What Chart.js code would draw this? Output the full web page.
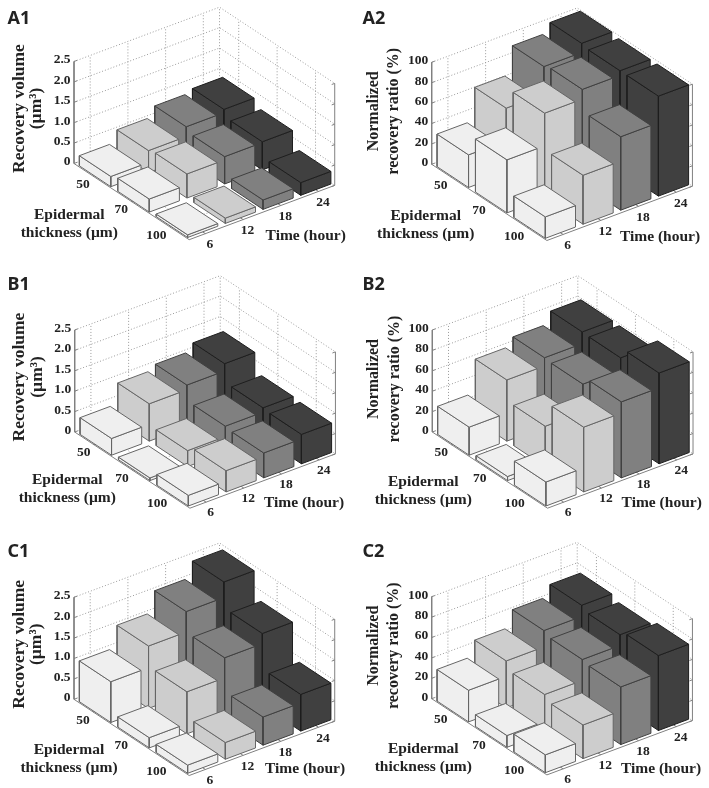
<!DOCTYPE html>
<html>
<head>
<meta charset="utf-8">
<script src="https://cdn.jsdelivr.net/npm/chart.js@4/dist/chart.umd.min.js"></script>
<style>
    html, body { margin: 0; padding: 0; background: #fff; }
    #figura { position: relative; width: 709px; height: 788px; overflow: hidden; }
    .painel { position: absolute; width: 354px; height: 262px; }
</style>
</head>
<body>
<div id="figura"></div>
<script>
// Categorias e marcas dos eixos
const timeHours = ['6', '12', '18', '24'];
const thicknessUm = ['50', '70', '100'];
const volumeTicks = [0, 0.5, 1.0, 1.5, 2.0, 2.5];
const ratioTicks = [0, 20, 40, 60, 80, 100];
const panelNames = ['A1', 'A2', 'B1', 'B2', 'C1', 'C2'];

// Valores: linhas = espessura (50, 70, 100), colunas = tempo (6, 12, 18, 24)
const a1 = [[0.25, 0.54, 0.78, 0.86], [0.32, 0.59, 0.67, 0.69], [0.065, 0.13, 0.23, 0.31]];
const a2 = [[32, 64, 91, 100], [52, 84, 93.5, 98], [21, 48, 72, 98]];
const b1 = [[0.41, 0.915, 1.03, 1.21], [0.065, 0.39, 0.645, 0.75], [0.26, 0.52, 0.61, 0.72]];
const b2 = [[27.5, 60, 68, 79.5], [4, 39.5, 67, 79], [23.5, 63.5, 74.5, 89]];
const c1 = [[1.0, 1.53, 2.03, 2.41], [0.25, 1.03, 1.52, 1.77], [0.2, 0.41, 0.69, 0.9]];
const c2 = [[31, 46, 62, 73], [11.5, 38, 58.5, 69], [17.5, 33, 56.5, 73.5]];
const panelValues = [a1, a2, b1, b2, c1, c2];

// Cor de cada tempo
const timeColors = ['#efefef', '#cdcdcd', '#808080', '#404040'];
const edgeColors = ['#666666', '#666666', '#404040', '#1e1e1e'];

// Posição de cada painel na página e origem do eixo dentro dele
const panelLeft = [0, 355, 0, 355, 0, 355];
const panelTop = [0, 0, 262, 262, 526, 526];
const originX = [74, 76.7, 74.7, 77.3, 74, 76.7];
const originY = [163.5, 164.3, 170, 170, 173.3, 172.7];
const nameY = [19, 19, 22.7, 22.7, 25.5, 25.5];
const epidermalDx = [-4.7, -6, -7.4, -9, -5, -8.4];
const epidermalDy = [51.5, 51.4, 48.3, 50, 50.7, 50];
const timeTitleDx = [231.7, 228.3, 229.3, 229.4, 231, 229.3];
const timeTitleDy = [72.2, 72.4, 71, 70.7, 70, 70.6];

// Projeção: quanto um passo de espessura, de tempo e o eixo vertical andam na tela
const H_X = 38.4, H_Y = 25.4;
const T_X = 37.7, T_Y = -14.07;
const T_MAX = 3.86, T_START = 0.03, BAR = 0.8;
const Z_HEIGHT = 102;

function criarPonto(painel, h, t, frac) {
    return {
        x: originX[painel] + h * H_X + t * T_X,
        y: originY[painel] + h * H_Y + t * T_Y - frac * Z_HEIGHT
    };
}

function linha(pontos, cor, tracejado) {
    return { data: pontos, showLine: true, fill: false, borderColor: cor, borderWidth: 1, borderDash: tracejado ? [1, 2] : [], pointRadius: 0, tension: 0 };
}

function face(pontos, cor, borda) {
    return { data: pontos.concat([pontos[0]]), showLine: true, fill: 'shape', backgroundColor: cor, borderColor: borda, borderWidth: 1, pointRadius: 0, tension: 0, borderJoinStyle: 'round' };
}

// Paredes, chão e eixos
function montarGrade(painel, ticks) {
    const p = (h, t, f) => criarPonto(painel, h, t, f);
    const sets = [];
    const grade = '#9a9a9a', eixo = '#808080';
    const zMax = ticks[ticks.length - 1];

    ticks.forEach(v => {
        const f = v / zMax;
        sets.push(linha([p(0, 0, f), p(0, T_MAX, f), p(3, T_MAX, f)], grade, true));
    });
    timeHours.forEach((_, j) => {
        const t = j + 0.43;
        sets.push(linha([p(0, t, 0), p(0, t, 1)], grade, true));
        sets.push(linha([p(0, t, 0), p(3, t, 0)], grade, true));
    });
    thicknessUm.forEach((_, i) => {
        const h = i + 0.5;
        sets.push(linha([p(h, T_MAX, 0), p(h, T_MAX, 1)], grade, true));
        sets.push(linha([p(h, 0, 0), p(h, T_MAX, 0)], grade, true));
    });
    sets.push(linha([p(0, T_MAX, 0), p(0, T_MAX, 1)], grade, true));

    sets.push(linha([p(0, 0, 1), p(0, 0, 0), p(3, 0, 0), p(3, T_MAX, 0), p(3, T_MAX, 1)], eixo, false));
    ticks.forEach(v => {
        const f = v / zMax;
        sets.push(linha([p(0, 0, f), p(0, 0.08, f)], eixo, false));
        sets.push(linha([p(3, T_MAX, f), p(3, T_MAX - 0.08, f)], eixo, false));
    });
    timeHours.forEach((_, j) => {
        sets.push(linha([p(3, j + 0.43, 0), p(2.9, j + 0.43, 0)], eixo, false));
    });
    thicknessUm.forEach((_, i) => {
        sets.push(linha([p(i + 0.5, 0, 0), p(i + 0.5, 0.1, 0)], eixo, false));
    });
    return sets;
}

// Barras de trás para a frente
function montarBarras(painel, valores, zMax) {
    const sets = [];
    valores.forEach((serie, i) => {
        for (let j = serie.length - 1; j >= 0; j--) {
            const f = serie[j] / zMax;
            const h0 = i + 0.11, h1 = i + 0.93;
            const t0 = j + T_START, t1 = j + T_START + BAR;
            const p = (h, t, z) => criarPonto(painel, h, t, z);
            sets.push(face([p(h0, t0, 0), p(h1, t0, 0), p(h1, t0, f), p(h0, t0, f)], timeColors[j], edgeColors[j]));
            sets.push(face([p(h1, t0, 0), p(h1, t1, 0), p(h1, t1, f), p(h1, t0, f)], timeColors[j], edgeColors[j]));
            sets.push(face([p(h0, t0, f), p(h1, t0, f), p(h1, t1, f), p(h0, t1, f)], timeColors[j], edgeColors[j]));
        }
    });
    return sets;
}

// Textos do painel, sempre posicionados pelas escalas do gráfico
function pluginTextos(painel, ticks, tituloY) {
    return {
        id: 'textos',
        afterDatasetsDraw(chart) {
            const { ctx, scales } = chart;
            const zMax = ticks[ticks.length - 1];
            const ehVolume = zMax < 10;
            const texto = (str, x, y, fonte, alinhar, girar) => {
                ctx.save();
                ctx.translate(scales.x.getPixelForValue(x), scales.y.getPixelForValue(y));
                if (girar) ctx.rotate(-Math.PI / 2);
                ctx.font = fonte;
                ctx.fillStyle = '#222';
                ctx.textAlign = alinhar;
                ctx.textBaseline = 'middle';
                ctx.fillText(str, 0, 0);
                ctx.restore();
            };
            const fonteTick = 'bold 13.5px "Liberation Serif"';
            const fonteTitulo = 'bold 15.5px "Liberation Serif"';
            const fonteY = ehVolume ? 'bold 17.5px "Liberation Serif"' : 'bold 16px "Liberation Serif"';
            const ox = originX[painel], oy = originY[painel];

            ticks.forEach(v => {
                const p = criarPonto(painel, 0, 0, v / zMax);
                const rotulo = ehVolume && v > 0 ? v.toFixed(1) : String(v);
                texto(rotulo, p.x - 3.5, p.y - 1.5, fonteTick, 'right');
            });
            thicknessUm.forEach((rotulo, i) => {
                const p = criarPonto(painel, i + 0.5, 0, 0);
                texto(rotulo, p.x - 3.5, p.y + 8.3, fonteTick, 'right');
            });
            timeHours.forEach((rotulo, j) => {
                const p = criarPonto(painel, 3, j + 0.43, 0);
                texto(rotulo, p.x + 4.5, p.y + 10.8, fonteTick, 'center');
            });

            texto('Epidermal', ox + epidermalDx[painel], oy + epidermalDy[painel], fonteTitulo, 'center');
            texto('thickness (µm)', ox + epidermalDx[painel], oy + epidermalDy[painel] + 18, fonteTitulo, 'center');
            texto('Time (hour)', ox + timeTitleDx[painel], oy + timeTitleDy[painel], fonteTitulo, 'center');
            const yTitulo = ehVolume ? oy - 55 : oy - 53;
            texto(tituloY[0], ox + (ehVolume ? -55 : -58), yTitulo, fonteY, 'center', true);
            texto(tituloY[1], ox - 37.5, yTitulo, fonteY, 'center', true);
            texto(panelNames[painel], 7.5, nameY[painel], 'bold 18px "Noto Sans"', 'left');
        }
    };
}

function criarPainel(painel) {
    const ehVolume = painel % 2 === 0;
    const ticks = ehVolume ? volumeTicks : ratioTicks;
    const tituloY = ehVolume ? ['Recovery volume', '(µm³)'] : ['Normalized', 'recovery ratio (%)'];
    const zMax = ticks[ticks.length - 1];

    const canvas = document.createElement('canvas');
    const caixa = document.createElement('div');
    caixa.className = 'painel';
    caixa.style.left = panelLeft[painel] + 'px';
    caixa.style.top = panelTop[painel] + 'px';
    caixa.appendChild(canvas);
    document.getElementById('figura').appendChild(caixa);

    new Chart(canvas.getContext('2d'), {
        type: 'scatter',
        data: { datasets: montarGrade(painel, ticks).concat(montarBarras(painel, panelValues[painel], zMax)).reverse() },
        options: {
            responsive: true,
            maintainAspectRatio: false,
            animation: false,
            clip: false,
            layout: { padding: 0 },
            plugins: { legend: { display: false }, tooltip: { enabled: false }, title: { display: false } },
            scales: {
                x: { type: 'linear', display: false, min: 0, max: 354 },
                y: { type: 'linear', display: false, min: 0, max: 262, reverse: true }
            }
        },
        plugins: [pluginTextos(painel, ticks, tituloY)]
    });
}

panelNames.forEach((_, i) => criarPainel(i));
</script>
</body>
</html>
